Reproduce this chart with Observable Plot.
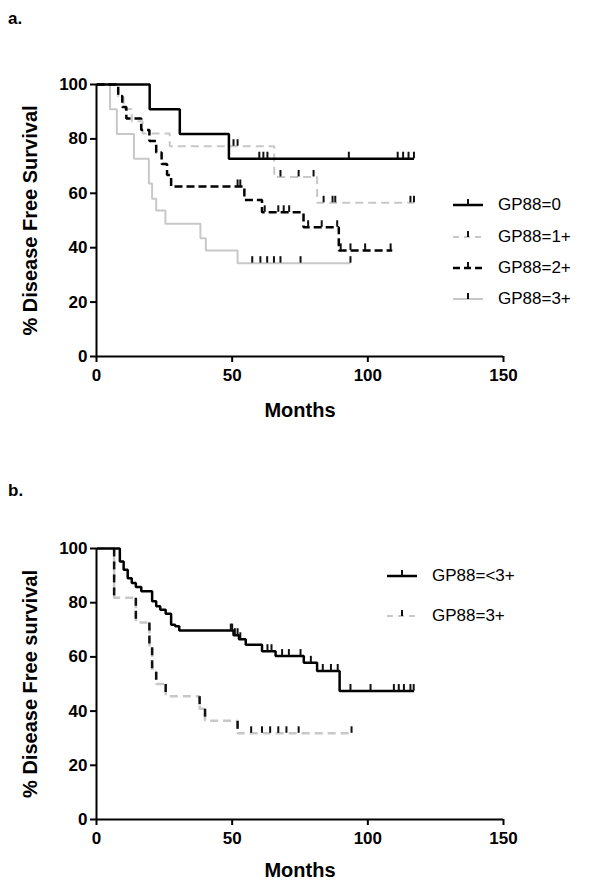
<!DOCTYPE html>
<html>
<head>
<meta charset="utf-8">
<script src="https://cdn.jsdelivr.net/npm/d3@7"></script>
<script src="https://cdn.jsdelivr.net/npm/@observablehq/plot@0.6"></script>
<style>
  html, body { margin: 0; padding: 0; background: #fff; }
  #root { position: relative; width: 601px; height: 887px; font-family: "Liberation Sans", Arial, sans-serif; color: #000; overflow: hidden; }
  .plabel { position: absolute; font-weight: bold; font-size: 17px; z-index: 5; }
  .chart { position: absolute; left: 0; }
  .legend { position: absolute; font-size: 17px; z-index: 5; }
  .legend .row { position: absolute; left: 0; display: flex; align-items: center; white-space: nowrap; }
  .legend svg { display: block; }
</style>
</head>
<body>
<div id="root">
  <div id="chartA" class="chart" style="top:0px"></div>
  <div id="chartB" class="chart" style="top:440px"></div>
  <div class="plabel" style="left:8px;top:9px">a.</div>
  <div class="plabel" style="left:8px;top:481px">b.</div>
  <div id="legendA" class="legend" style="left:452px;top:0px"></div>
  <div id="legendB" class="legend" style="left:386px;top:0px"></div>
</div>
<script>
// ---------- Data ----------
const xTicks = [0, 50, 100, 150];
const yTicks = [0, 20, 40, 60, 80, 100];

// Panel a
const a0Label = "GP88=0";
const a0Times = [0, 19.6, 30.7, 48.8];
const a0Surv = [100, 90.9, 81.8, 72.7];
const a0End = 117;
const a0Censor = [60, 61.5, 63, 93, 111, 113, 115, 117];

const a1Label = "GP88=1+";
const a1Times = [0, 8, 10, 13, 17, 27, 65.5, 81.3];
const a1Surv = [100, 95.5, 91, 86.5, 82, 77.3, 66, 56.5];
const a1End = 117;
const a1Censor = [50.5, 52, 67.8, 74.5, 80, 83.7, 87, 88, 115.7, 117];

const a2Label = "GP88=2+";
const a2Times = [0, 8, 9.5, 11, 16.5, 19.5, 22, 24, 26, 27.5, 54.5, 61, 76.3, 89.3];
const a2Surv = [100, 95.8, 91.7, 87.5, 83.3, 79.2, 75, 70.8, 66.7, 62.5, 57.5, 53, 47.5, 39];
const a2End = 109;
const a2Censor = [52, 53, 62, 67, 69, 71, 78, 83, 88.7, 90, 93.6, 99, 108.4];

const a3Label = "GP88=3+";
const a3Times = [0, 5, 7.5, 13.8, 19.3, 20.5, 22, 25.4, 38.3, 40.3, 52];
const a3Surv = [100, 90.9, 81.8, 72.7, 63.6, 58, 53.7, 48.8, 43.5, 39, 34.3];
const a3End = 93.6;
const a3Censor = [57.4, 60.4, 62.9, 65.4, 67.8, 75.2, 93.6];

// Panel b
const b0Label = "GP88=<3+";
const b0Times = [0, 8.6, 10, 11.5, 13, 14.5, 16.5, 20.5, 22, 23.5, 25.5, 27.5, 29, 30.5, 50.5, 52.5, 55, 61, 66, 76.4, 81.3, 89.6];
const b0Surv = [100, 95.2, 92.2, 89, 87.3, 85.8, 84.2, 80.5, 78.7, 77.4, 75.9, 71.9, 71.3, 69.7, 68, 66.5, 64.5, 62.1, 60.3, 57.8, 54.8, 47.4];
const b0End = 117;
const b0Censor = [49.5, 50, 51, 52, 53, 63, 64.5, 68.4, 70.9, 75.2, 79, 83.4, 86.4, 88.9, 93.6, 101, 109.6, 111.4, 113.3, 115.7, 116.9];

const b1Label = "GP88=3+";
const b1Times = [0, 6.5, 14.5, 19.5, 20.5, 22, 25.5, 38, 40, 52];
const b1Surv = [100, 81.8, 72.7, 63.6, 54.5, 50, 45.5, 40.9, 36.4, 31.8];
const b1End = 94;
const b1Censor = [57, 61, 64, 67, 70, 74.5, 94];

// ---------- Helpers ----------
const GRAY = "#c8c8c8";
function stepRows(times, surv, end) {
  const rows = times.map((t, i) => ({x: t, y: surv[i]}));
  rows.push({x: end, y: surv[surv.length - 1]});
  return rows;
}
function levelAt(times, surv, t) {
  let v = surv[0];
  for (let i = 0; i < times.length; i++) if (times[i] <= t) v = surv[i];
  return v;
}
function censorRows(times, surv, cens) {
  return cens.map(t => ({x: t, y: levelAt(times, surv, t)}));
}
function dropRows(times, surv) {
  const out = [];
  for (let i = 1; i < times.length; i++) out.push({x: times[i], y1: surv[i - 1], y2: surv[i]});
  return out;
}
function seriesMarks(times, surv, end, cens, style) {
  const marks = [
    Plot.line(stepRows(times, surv, end), {x: "x", y: "y", curve: "step-after", stroke: style.stroke, strokeWidth: style.width, strokeDasharray: style.dash, strokeLinecap: "butt", strokeLinejoin: "miter"})
  ];
  if (style.dropStroke) {
    marks.push(Plot.link(dropRows(times, surv), {x1: "x", x2: "x", y1: "y1", y2: "y2", stroke: style.dropStroke, strokeWidth: style.width, strokeDasharray: style.dash}));
  }
  marks.push(Plot.ruleX(censorRows(times, surv, cens), {x: "x", y1: "y", y2: d => d.y + 2.4, stroke: "#111", strokeWidth: 2}));
  return marks;
}
function frameMarks(yTitle, titleDy) {
  return [
    Plot.axisX({ticks: xTicks, tickSize: 6, tickPadding: 6, strokeWidth: 2, fontSize: 17, fontWeight: "bold", label: null, fill: "#000", stroke: "#000"}),
    Plot.axisY({ticks: yTicks, tickSize: 6, tickPadding: 3, strokeWidth: 2, fontSize: 17, fontWeight: "bold", label: null, fill: "#000", stroke: "#000"}),
    Plot.ruleX([0], {stroke: "#000", strokeWidth: 2}),
    Plot.ruleY([0], {stroke: "#000", strokeWidth: 2}),
    Plot.text(["Months"], {frameAnchor: "bottom", dy: titleDy, text: d => d, fontSize: 20, fontWeight: "bold", fill: "#000", textAnchor: "middle", lineAnchor: "middle"}),
    Plot.text([yTitle], {frameAnchor: "left", dx: -66, rotate: -90, text: d => d, fontSize: 20, fontWeight: "bold", fill: "#000", textAnchor: "middle", lineAnchor: "middle"})
  ];
}
function makeChart(height, mt, mb, series, yTitle, titleDy) {
  return Plot.plot({
    width: 601, height, marginLeft: 96, marginRight: 98, marginTop: mt, marginBottom: mb,
    style: {fontFamily: "'Liberation Sans', Arial, sans-serif", color: "#000", background: "transparent", overflow: "visible"},
    x: {domain: [0, 150], ticks: xTicks},
    y: {domain: [0, 100], ticks: yTicks},
    axis: null,
    marks: [...series.flat(), ...frameMarks(yTitle, titleDy)]
  });
}

const styles = {
  black: {stroke: "#000", width: 2.5, dash: null},
  gray: {stroke: GRAY, width: 2, dash: null},
  grayDash: {stroke: GRAY, width: 2, dash: "8,5"},
  blackDash: {stroke: "#000", width: 2.5, dash: "8,4"},
  grayDashDarkDrop: {stroke: GRAY, width: 2.5, dash: "8,5", dropStroke: "#111"}
};

const chartA = makeChart(440, 84, 84, [
  seriesMarks(a3Times, a3Surv, a3End, a3Censor, styles.gray),
  seriesMarks(a1Times, a1Surv, a1End, a1Censor, styles.grayDash),
  seriesMarks(a2Times, a2Surv, a2End, a2Censor, styles.blackDash),
  seriesMarks(a0Times, a0Surv, a0End, a0Censor, styles.black)
], "% Disease Free Survival", 54);
document.getElementById("chartA").appendChild(chartA);

const chartB = makeChart(447, 108, 68, [
  seriesMarks(b1Times, b1Surv, b1End, b1Censor, styles.grayDashDarkDrop),
  seriesMarks(b0Times, b0Surv, b0End, b0Censor, styles.black)
], "% Disease Free survival", 51);
document.getElementById("chartB").appendChild(chartB);

// ---------- Legends ----------
function legendRow(label, style, top) {
  const row = document.createElement("div");
  row.className = "row";
  row.style.top = (top - 12) + "px";
  row.style.height = "24px";
  const dash = style.dash ? `stroke-dasharray="${style.dash === "8,4" ? "7,4" : "6,5"}"` : "";
  row.innerHTML = `<svg width="44" height="24"><line x1="1" x2="31" y1="12" y2="12" stroke="${style.stroke}" stroke-width="${style.width}" ${dash}/><line x1="16" x2="16" y1="12" y2="6" stroke="#111" stroke-width="2"/></svg><span style="margin-left:2px">${label}</span>`;
  return row;
}
const legA = document.getElementById("legendA");
[[a0Label, styles.black, 205], [a1Label, styles.grayDash, 237], [a2Label, styles.blackDash, 268], [a3Label, styles.gray, 299]]
  .forEach(([l, s, t]) => legA.appendChild(legendRow(l, s, t)));
const legB = document.getElementById("legendB");
[[b0Label, styles.black, 576], [b1Label, styles.grayDash, 616]]
  .forEach(([l, s, t]) => legB.appendChild(legendRow(l, s, t)));
</script>
</body>
</html>
